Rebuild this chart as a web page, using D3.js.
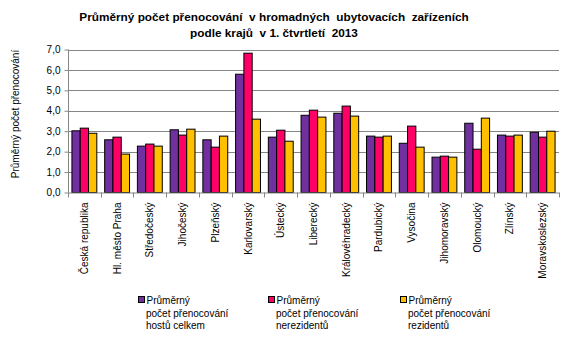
<!DOCTYPE html>
<html>
<head>
<meta charset="utf-8">
<script src="https://cdn.jsdelivr.net/npm/d3@7"></script>
<style>
	body { margin: 0; background: #fff; }
	svg text { font-family: "Liberation Sans", Arial, sans-serif; fill: #000; }
</style>
</head>
<body>
<svg id="chart" width="575" height="340"></svg>
<script>
var regions = ["Česká republika", "Hl. město Praha", "Středočeský", "Jihočeský", "Plzeňský",
	"Karlovarský", "Ústecký", "Liberecký", "Královéhradecký", "Pardubický", "Vysočina",
	"Jihomoravský", "Olomoucký", "Zlínský", "Moravskoslezský"];
var totalGuests  = [3.02, 2.58, 2.27, 3.07, 2.58, 5.79, 2.71, 3.78, 3.88, 2.76, 2.41, 1.73, 3.39, 2.81, 2.95];
var nonResidents = [3.15, 2.71, 2.37, 2.81, 2.22, 6.82, 3.05, 4.03, 4.23, 2.71, 3.25, 1.78, 2.12, 2.76, 2.71];
var residents    = [2.90, 1.88, 2.27, 3.10, 2.76, 3.59, 2.51, 3.69, 3.74, 2.76, 2.22, 1.73, 3.64, 2.81, 3.00];
var seriesNames  = [
	["Průměrný", "počet přenocování", "hostů celkem"],
	["Průměrný", "počet přenocování", "nerezidentů"],
	["Průměrný", "počet přenocování", "rezidentů"]
];
var yTicks = [0, 1, 2, 3, 4, 5, 6, 7];

var colors = ["#7030A0", "#FF0066", "#FFC000"];
var series = [totalGuests, nonResidents, residents];

var svg = d3.select("#chart");
var plotLeft = 68, plotRight = 559, plotTop = 49.5, plotBottom = 192.5;

var x = d3.scaleBand().domain(regions).range([plotLeft, plotRight]).paddingInner(0.24).paddingOuter(0.12);
var xs = d3.scaleBand().domain([0, 1, 2]).range([0, x.bandwidth()]);
var y = d3.scaleLinear().domain([0, 7]).range([plotBottom, plotTop]);

// title
var title = svg.append("text").attr("text-anchor", "middle")
	.style("font-size", "11.8px").style("font-weight", "bold").style("white-space", "pre");
title.append("tspan").attr("x", 274).attr("y", 21).text("Průměrný počet přenocování  v hromadných  ubytovacích  zařízeních");
title.append("tspan").attr("x", 274).attr("y", 37).text("podle krajů  v 1. čtvrtletí  2013");

// gridlines
svg.append("g").selectAll("line").data(yTicks.slice(1)).join("line")
	.attr("x1", plotLeft).attr("x2", plotRight)
	.attr("y1", function(d){ return Math.round(y(d)) + 0.5; })
	.attr("y2", function(d){ return Math.round(y(d)) + 0.5; })
	.attr("stroke", "#868686").attr("stroke-width", 1);

// y axis
var yAxis = svg.append("g").attr("transform", "translate(" + (plotLeft + 0.5) + ",0)")
	.call(d3.axisLeft(y).tickValues(yTicks).tickSize(4)
		.tickFormat(function(d){ return d3.format(".1f")(d).replace(".", ","); }));
yAxis.select(".domain").attr("stroke", "#868686").attr("d", "M0," + plotTop + "V" + plotBottom);
yAxis.selectAll(".tick line").attr("stroke", "#868686");
yAxis.selectAll("text").style("font-size", "10px").style("font-family", "Liberation Sans, Arial, sans-serif").attr("x", -8);

// bars
var groups = svg.append("g").selectAll("g").data(regions).join("g")
	.attr("transform", function(d){ return "translate(" + x(d) + ",0)"; });
groups.selectAll("rect").data(function(d, i){ return series.map(function(s, k){ return { k: k, v: s[i] }; }); })
	.join("rect")
	.attr("x", function(d){ return xs(d.k); })
	.attr("width", xs.bandwidth())
	.attr("y", function(d){ return y(d.v); })
	.attr("height", function(d){ return y(0) - y(d.v); })
	.attr("fill", function(d){ return colors[d.k]; })
	.attr("stroke", "#000").attr("stroke-width", 1);

// x axis
var step = x.step();
var xAxis = svg.append("g");
xAxis.append("line").attr("x1", plotLeft).attr("x2", plotRight)
	.attr("y1", plotBottom + 0.5).attr("y2", plotBottom + 0.5).attr("stroke", "#868686");
xAxis.selectAll("line.tk").data(d3.range(regions.length + 1)).join("line").attr("class", "tk")
	.attr("x1", function(i){ return Math.round(plotLeft + i * step) + 0.5; })
	.attr("x2", function(i){ return Math.round(plotLeft + i * step) + 0.5; })
	.attr("y1", plotBottom).attr("y2", plotBottom + 5).attr("stroke", "#868686");
xAxis.selectAll("text").data(regions).join("text")
	.attr("transform", function(d){ return "translate(" + (x(d) + x.bandwidth() / 2 + 3.5) + "," + (plotBottom + 10) + ") rotate(-90)"; })
	.attr("text-anchor", "end")
	.style("font-size", "10px")
	.text(function(d){ return d; });

// y axis title
svg.append("text").attr("transform", "translate(19,114) rotate(-90)")
	.attr("text-anchor", "middle").style("font-size", "10px")
	.text("Průměrný počet přenocování");

// legend: small square swatch beside the first label line
var legendX = [138, 268, 400];
var swatches = svg.append("g").attr("class", "legend-swatches");
var labels = svg.append("g").attr("class", "legend-labels");
seriesNames.forEach(function(lines, i){
	swatches.append("rect")
		.attr("x", legendX[i] + 0.5).attr("y", 296.5).attr("width", 6).attr("height", 6)
		.attr("fill", colors[i]).attr("stroke", "#000").attr("stroke-width", 1);
	var label = labels.append("text").style("font-size", "10px");
	lines.forEach(function(line, j){
		label.append("tspan").attr("x", legendX[i] + (j === 0 ? 8.5 : 8)).attr("y", 304 + j * 12.5).text(line);
	});
});
</script>
</body>
</html>
